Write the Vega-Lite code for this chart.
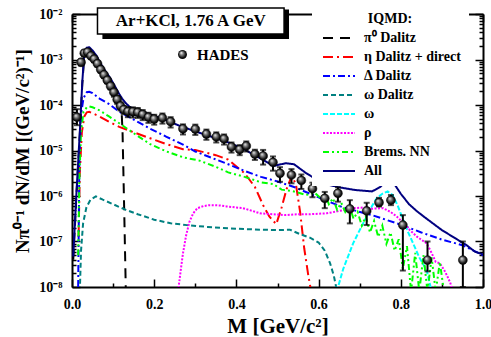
{
  "$schema": "https://vega.github.io/schema/vega-lite/v6.json",
  "width": 411,
  "height": 273,
  "autosize": "none",
  "padding": {"left": 72, "top": 14, "right": 8, "bottom": 50},
  "background": "white",
  "config": {"view": {"stroke": null}, "font": "Liberation Serif"},
  "datasets": {
    "curves": [
      {"s": "π⁰ Dalitz", "M": 0.003, "y": 4.0e-8}, {"s": "π⁰ Dalitz", "M": 0.011, "y": 1.12e-6}, {"s": "π⁰ Dalitz", "M": 0.019, "y": 2.24e-5}, {"s": "π⁰ Dalitz", "M": 0.025, "y": 2.82e-4}, {"s": "π⁰ Dalitz", "M": 0.030, "y": 1.26e-3}, {"s": "π⁰ Dalitz", "M": 0.036, "y": 1.70e-3}, {"s": "π⁰ Dalitz", "M": 0.042, "y": 1.74e-3}, {"s": "π⁰ Dalitz", "M": 0.050, "y": 1.48e-3}, {"s": "π⁰ Dalitz", "M": 0.060, "y": 1.10e-3}, {"s": "π⁰ Dalitz", "M": 0.067, "y": 8.1e-4}, {"s": "π⁰ Dalitz", "M": 0.075, "y": 6.0e-4}, {"s": "π⁰ Dalitz", "M": 0.083, "y": 4.57e-4}, {"s": "π⁰ Dalitz", "M": 0.091, "y": 3.47e-4}, {"s": "π⁰ Dalitz", "M": 0.099, "y": 2.51e-4}, {"s": "π⁰ Dalitz", "M": 0.107, "y": 1.74e-4}, {"s": "π⁰ Dalitz", "M": 0.115, "y": 1.12e-4}, {"s": "π⁰ Dalitz", "M": 0.121, "y": 6.3e-5}, {"s": "π⁰ Dalitz", "M": 0.123, "y": 2.51e-5}, {"s": "π⁰ Dalitz", "M": 0.127, "y": 5.0e-7}, {"s": "π⁰ Dalitz", "M": 0.131, "y": 7.9e-9},

      {"s": "η Dalitz + direct", "M": 0.016, "y": 1.26e-7}, {"s": "η Dalitz + direct", "M": 0.019, "y": 3.16e-6}, {"s": "η Dalitz + direct", "M": 0.024, "y": 2.51e-5}, {"s": "η Dalitz + direct", "M": 0.030, "y": 5.6e-5}, {"s": "η Dalitz + direct", "M": 0.036, "y": 6.9e-5}, {"s": "η Dalitz + direct", "M": 0.042, "y": 7.1e-5}, {"s": "η Dalitz + direct", "M": 0.050, "y": 6.6e-5}, {"s": "η Dalitz + direct", "M": 0.067, "y": 5.6e-5}, {"s": "η Dalitz + direct", "M": 0.090, "y": 4.27e-5}, {"s": "η Dalitz + direct", "M": 0.115, "y": 3.31e-5}, {"s": "η Dalitz + direct", "M": 0.150, "y": 2.51e-5}, {"s": "η Dalitz + direct", "M": 0.190, "y": 1.86e-5}, {"s": "η Dalitz + direct", "M": 0.230, "y": 1.38e-5}, {"s": "η Dalitz + direct", "M": 0.270, "y": 1.07e-5}, {"s": "η Dalitz + direct", "M": 0.300, "y": 1.02e-5}, {"s": "η Dalitz + direct", "M": 0.350, "y": 7.9e-6}, {"s": "η Dalitz + direct", "M": 0.380, "y": 6.3e-6}, {"s": "η Dalitz + direct", "M": 0.420, "y": 3.16e-6}, {"s": "η Dalitz + direct", "M": 0.445, "y": 1.58e-6}, {"s": "η Dalitz + direct", "M": 0.465, "y": 6.3e-7}, {"s": "η Dalitz + direct", "M": 0.480, "y": 3.55e-7}, {"s": "η Dalitz + direct", "M": 0.497, "y": 2.4e-7}, {"s": "η Dalitz + direct", "M": 0.510, "y": 5.6e-7}, {"s": "η Dalitz + direct", "M": 0.522, "y": 1.41e-6}, {"s": "η Dalitz + direct", "M": 0.535, "y": 2.82e-6}, {"s": "η Dalitz + direct", "M": 0.545, "y": 1.78e-6}, {"s": "η Dalitz + direct", "M": 0.555, "y": 4.47e-7}, {"s": "η Dalitz + direct", "M": 0.565, "y": 7.1e-8}, {"s": "η Dalitz + direct", "M": 0.575, "y": 1.78e-8}, {"s": "η Dalitz + direct", "M": 0.582, "y": 7.9e-9},

      {"s": "Δ Dalitz", "M": 0.015, "y": 1.0e-8}, {"s": "Δ Dalitz", "M": 0.018, "y": 6.3e-6}, {"s": "Δ Dalitz", "M": 0.022, "y": 6.3e-5}, {"s": "Δ Dalitz", "M": 0.028, "y": 1.41e-4}, {"s": "Δ Dalitz", "M": 0.036, "y": 1.91e-4}, {"s": "Δ Dalitz", "M": 0.042, "y": 1.95e-4}, {"s": "Δ Dalitz", "M": 0.050, "y": 1.82e-4}, {"s": "Δ Dalitz", "M": 0.067, "y": 1.38e-4}, {"s": "Δ Dalitz", "M": 0.090, "y": 1.05e-4}, {"s": "Δ Dalitz", "M": 0.115, "y": 7.1e-5}, {"s": "Δ Dalitz", "M": 0.150, "y": 4.79e-5}, {"s": "Δ Dalitz", "M": 0.190, "y": 3.02e-5}, {"s": "Δ Dalitz", "M": 0.230, "y": 2.0e-5}, {"s": "Δ Dalitz", "M": 0.270, "y": 1.35e-5}, {"s": "Δ Dalitz", "M": 0.300, "y": 9.5e-6}, {"s": "Δ Dalitz", "M": 0.340, "y": 6.9e-6}, {"s": "Δ Dalitz", "M": 0.380, "y": 5.0e-6}, {"s": "Δ Dalitz", "M": 0.420, "y": 3.55e-6}, {"s": "Δ Dalitz", "M": 0.460, "y": 2.63e-6}, {"s": "Δ Dalitz", "M": 0.500, "y": 2.09e-6}, {"s": "Δ Dalitz", "M": 0.540, "y": 1.58e-6}, {"s": "Δ Dalitz", "M": 0.600, "y": 9.3e-7}, {"s": "Δ Dalitz", "M": 0.660, "y": 5.6e-7}, {"s": "Δ Dalitz", "M": 0.730, "y": 3.8e-7}, {"s": "Δ Dalitz", "M": 0.800, "y": 2.34e-7}, {"s": "Δ Dalitz", "M": 0.850, "y": 1.58e-7}, {"s": "Δ Dalitz", "M": 0.900, "y": 1.10e-7}, {"s": "Δ Dalitz", "M": 0.950, "y": 8.3e-8}, {"s": "Δ Dalitz", "M": 1.000, "y": 5.0e-8},

      {"s": "ω Dalitz", "M": 0.019, "y": 7.9e-9}, {"s": "ω Dalitz", "M": 0.022, "y": 6.3e-8}, {"s": "ω Dalitz", "M": 0.027, "y": 2.51e-7}, {"s": "ω Dalitz", "M": 0.035, "y": 5.6e-7}, {"s": "ω Dalitz", "M": 0.045, "y": 8.3e-7}, {"s": "ω Dalitz", "M": 0.058, "y": 9.8e-7}, {"s": "ω Dalitz", "M": 0.075, "y": 8.3e-7}, {"s": "ω Dalitz", "M": 0.100, "y": 6.6e-7}, {"s": "ω Dalitz", "M": 0.130, "y": 5.0e-7}, {"s": "ω Dalitz", "M": 0.160, "y": 3.98e-7}, {"s": "ω Dalitz", "M": 0.200, "y": 3.02e-7}, {"s": "ω Dalitz", "M": 0.240, "y": 2.51e-7}, {"s": "ω Dalitz", "M": 0.280, "y": 2.29e-7}, {"s": "ω Dalitz", "M": 0.330, "y": 2.09e-7}, {"s": "ω Dalitz", "M": 0.380, "y": 1.95e-7}, {"s": "ω Dalitz", "M": 0.430, "y": 1.86e-7}, {"s": "ω Dalitz", "M": 0.460, "y": 1.82e-7}, {"s": "ω Dalitz", "M": 0.500, "y": 1.78e-7}, {"s": "ω Dalitz", "M": 0.530, "y": 1.82e-7}, {"s": "ω Dalitz", "M": 0.555, "y": 1.45e-7}, {"s": "ω Dalitz", "M": 0.580, "y": 1.20e-7}, {"s": "ω Dalitz", "M": 0.600, "y": 9.5e-8}, {"s": "ω Dalitz", "M": 0.615, "y": 6.3e-8}, {"s": "ω Dalitz", "M": 0.628, "y": 3.31e-8}, {"s": "ω Dalitz", "M": 0.637, "y": 1.78e-8}, {"s": "ω Dalitz", "M": 0.645, "y": 7.9e-9},

      {"s": "ω", "M": 0.644, "y": 7.9e-9}, {"s": "ω", "M": 0.660, "y": 2.51e-8}, {"s": "ω", "M": 0.684, "y": 9.1e-8}, {"s": "ω", "M": 0.700, "y": 1.78e-7}, {"s": "ω", "M": 0.717, "y": 3.55e-7}, {"s": "ω", "M": 0.730, "y": 6.0e-7}, {"s": "ω", "M": 0.741, "y": 8.9e-7}, {"s": "ω", "M": 0.755, "y": 1.12e-6}, {"s": "ω", "M": 0.768, "y": 1.26e-6}, {"s": "ω", "M": 0.780, "y": 1.05e-6}, {"s": "ω", "M": 0.792, "y": 6.3e-7}, {"s": "ω", "M": 0.806, "y": 2.95e-7}, {"s": "ω", "M": 0.818, "y": 1.58e-7}, {"s": "ω", "M": 0.830, "y": 9.1e-8}, {"s": "ω", "M": 0.845, "y": 4.47e-8}, {"s": "ω", "M": 0.863, "y": 2.34e-8}, {"s": "ω", "M": 0.875, "y": 7.9e-9},

      {"s": "ρ", "M": 0.258, "y": 7.9e-9}, {"s": "ρ", "M": 0.265, "y": 2.51e-8}, {"s": "ρ", "M": 0.270, "y": 5.5e-8}, {"s": "ρ", "M": 0.278, "y": 1.41e-7}, {"s": "ρ", "M": 0.286, "y": 2.75e-7}, {"s": "ρ", "M": 0.295, "y": 4.17e-7}, {"s": "ρ", "M": 0.305, "y": 5.4e-7}, {"s": "ρ", "M": 0.320, "y": 6.0e-7}, {"s": "ρ", "M": 0.335, "y": 6.3e-7}, {"s": "ρ", "M": 0.360, "y": 6.2e-7}, {"s": "ρ", "M": 0.376, "y": 5.9e-7}, {"s": "ρ", "M": 0.400, "y": 5.6e-7}, {"s": "ρ", "M": 0.416, "y": 5.4e-7}, {"s": "ρ", "M": 0.440, "y": 4.68e-7}, {"s": "ρ", "M": 0.457, "y": 4.17e-7}, {"s": "ρ", "M": 0.490, "y": 3.98e-7}, {"s": "ρ", "M": 0.520, "y": 3.8e-7}, {"s": "ρ", "M": 0.550, "y": 3.98e-7}, {"s": "ρ", "M": 0.580, "y": 3.98e-7}, {"s": "ρ", "M": 0.620, "y": 4.17e-7}, {"s": "ρ", "M": 0.650, "y": 4.68e-7}, {"s": "ρ", "M": 0.684, "y": 5.4e-7}, {"s": "ρ", "M": 0.710, "y": 5.6e-7}, {"s": "ρ", "M": 0.730, "y": 5.25e-7}, {"s": "ρ", "M": 0.757, "y": 5.4e-7}, {"s": "ρ", "M": 0.775, "y": 4.47e-7}, {"s": "ρ", "M": 0.790, "y": 3.55e-7}, {"s": "ρ", "M": 0.805, "y": 2.63e-7}, {"s": "ρ", "M": 0.822, "y": 1.78e-7}, {"s": "ρ", "M": 0.840, "y": 1.26e-7}, {"s": "ρ", "M": 0.863, "y": 9.1e-8}, {"s": "ρ", "M": 0.875, "y": 5.6e-8}, {"s": "ρ", "M": 0.885, "y": 3.55e-8}, {"s": "ρ", "M": 0.895, "y": 3.31e-8}, {"s": "ρ", "M": 0.905, "y": 2.4e-8}, {"s": "ρ", "M": 0.912, "y": 1.82e-8}, {"s": "ρ", "M": 0.920, "y": 1.26e-8}, {"s": "ρ", "M": 0.927, "y": 7.9e-9},

      {"s": "Brems. NN", "M": 0.015, "y": 5.0e-8}, {"s": "Brems. NN", "M": 0.018, "y": 2.51e-6}, {"s": "Brems. NN", "M": 0.022, "y": 2.51e-5}, {"s": "Brems. NN", "M": 0.028, "y": 7.1e-5}, {"s": "Brems. NN", "M": 0.036, "y": 8.9e-5}, {"s": "Brems. NN", "M": 0.042, "y": 9.3e-5}, {"s": "Brems. NN", "M": 0.050, "y": 8.9e-5}, {"s": "Brems. NN", "M": 0.067, "y": 7.6e-5}, {"s": "Brems. NN", "M": 0.090, "y": 5.6e-5}, {"s": "Brems. NN", "M": 0.115, "y": 3.98e-5}, {"s": "Brems. NN", "M": 0.150, "y": 2.4e-5}, {"s": "Brems. NN", "M": 0.190, "y": 1.38e-5}, {"s": "Brems. NN", "M": 0.230, "y": 9.5e-6}, {"s": "Brems. NN", "M": 0.270, "y": 7.1e-6}, {"s": "Brems. NN", "M": 0.310, "y": 6.0e-6}, {"s": "Brems. NN", "M": 0.350, "y": 4.37e-6}, {"s": "Brems. NN", "M": 0.380, "y": 3.31e-6}, {"s": "Brems. NN", "M": 0.420, "y": 2.63e-6}, {"s": "Brems. NN", "M": 0.460, "y": 2.0e-6}, {"s": "Brems. NN", "M": 0.490, "y": 1.82e-6}, {"s": "Brems. NN", "M": 0.510, "y": 1.38e-6}, {"s": "Brems. NN", "M": 0.540, "y": 1.26e-6}, {"s": "Brems. NN", "M": 0.570, "y": 1.05e-6}, {"s": "Brems. NN", "M": 0.590, "y": 1.20e-6}, {"s": "Brems. NN", "M": 0.605, "y": 8.9e-7}, {"s": "Brems. NN", "M": 0.615, "y": 1.12e-6}, {"s": "Brems. NN", "M": 0.625, "y": 6.6e-7}, {"s": "Brems. NN", "M": 0.635, "y": 8.9e-7}, {"s": "Brems. NN", "M": 0.645, "y": 5.0e-7}, {"s": "Brems. NN", "M": 0.655, "y": 7.1e-7}, {"s": "Brems. NN", "M": 0.665, "y": 4.47e-7}, {"s": "Brems. NN", "M": 0.675, "y": 6.0e-7}, {"s": "Brems. NN", "M": 0.685, "y": 3.16e-7}, {"s": "Brems. NN", "M": 0.695, "y": 4.47e-7}, {"s": "Brems. NN", "M": 0.705, "y": 2.24e-7}, {"s": "Brems. NN", "M": 0.715, "y": 3.55e-7}, {"s": "Brems. NN", "M": 0.725, "y": 1.58e-7}, {"s": "Brems. NN", "M": 0.735, "y": 2.82e-7}, {"s": "Brems. NN", "M": 0.745, "y": 1.26e-7}, {"s": "Brems. NN", "M": 0.755, "y": 2.24e-7}, {"s": "Brems. NN", "M": 0.765, "y": 8.9e-8}, {"s": "Brems. NN", "M": 0.775, "y": 1.58e-7}, {"s": "Brems. NN", "M": 0.785, "y": 6.3e-8}, {"s": "Brems. NN", "M": 0.795, "y": 1.12e-7}, {"s": "Brems. NN", "M": 0.805, "y": 2.51e-8}, {"s": "Brems. NN", "M": 0.815, "y": 7.9e-8}, {"s": "Brems. NN", "M": 0.825, "y": 7.9e-9}, {"s": "Brems. NN", "M": 0.835, "y": 5.6e-8}, {"s": "Brems. NN", "M": 0.845, "y": 7.9e-9}, {"s": "Brems. NN", "M": 0.855, "y": 5.0e-8}, {"s": "Brems. NN", "M": 0.865, "y": 7.9e-9}, {"s": "Brems. NN", "M": 0.875, "y": 4.47e-8}, {"s": "Brems. NN", "M": 0.885, "y": 7.9e-9}, {"s": "Brems. NN", "M": 0.895, "y": 3.55e-8}, {"s": "Brems. NN", "M": 0.905, "y": 7.9e-9},

      {"s": "All", "M": 0.003, "y": 4.68e-8}, {"s": "All", "M": 0.011, "y": 1.26e-6}, {"s": "All", "M": 0.019, "y": 2.51e-5}, {"s": "All", "M": 0.025, "y": 3.16e-4}, {"s": "All", "M": 0.030, "y": 1.41e-3}, {"s": "All", "M": 0.036, "y": 1.82e-3}, {"s": "All", "M": 0.042, "y": 1.86e-3}, {"s": "All", "M": 0.050, "y": 1.58e-3}, {"s": "All", "M": 0.060, "y": 1.20e-3}, {"s": "All", "M": 0.067, "y": 8.9e-4}, {"s": "All", "M": 0.075, "y": 6.8e-4}, {"s": "All", "M": 0.083, "y": 5.25e-4}, {"s": "All", "M": 0.091, "y": 4.17e-4}, {"s": "All", "M": 0.099, "y": 3.16e-4}, {"s": "All", "M": 0.107, "y": 2.34e-4}, {"s": "All", "M": 0.115, "y": 1.74e-4}, {"s": "All", "M": 0.122, "y": 1.38e-4}, {"s": "All", "M": 0.130, "y": 1.12e-4}, {"s": "All", "M": 0.140, "y": 9.1e-5}, {"s": "All", "M": 0.156, "y": 7.8e-5}, {"s": "All", "M": 0.175, "y": 6.8e-5}, {"s": "All", "M": 0.190, "y": 6.2e-5}, {"s": "All", "M": 0.220, "y": 5.0e-5}, {"s": "All", "M": 0.260, "y": 3.55e-5}, {"s": "All", "M": 0.300, "y": 2.63e-5}, {"s": "All", "M": 0.340, "y": 2.0e-5}, {"s": "All", "M": 0.380, "y": 1.51e-5}, {"s": "All", "M": 0.420, "y": 1.05e-5}, {"s": "All", "M": 0.460, "y": 6.6e-6}, {"s": "All", "M": 0.490, "y": 4.57e-6}, {"s": "All", "M": 0.520, "y": 5.25e-6}, {"s": "All", "M": 0.540, "y": 5.0e-6}, {"s": "All", "M": 0.570, "y": 3.16e-6}, {"s": "All", "M": 0.610, "y": 1.91e-6}, {"s": "All", "M": 0.650, "y": 1.55e-6}, {"s": "All", "M": 0.690, "y": 1.35e-6}, {"s": "All", "M": 0.730, "y": 1.26e-6}, {"s": "All", "M": 0.750, "y": 1.58e-6}, {"s": "All", "M": 0.765, "y": 2.19e-6}, {"s": "All", "M": 0.780, "y": 2.09e-6}, {"s": "All", "M": 0.800, "y": 1.12e-6}, {"s": "All", "M": 0.820, "y": 6.6e-7}, {"s": "All", "M": 0.840, "y": 4.57e-7}, {"s": "All", "M": 0.860, "y": 3.31e-7}, {"s": "All", "M": 0.900, "y": 1.78e-7}, {"s": "All", "M": 0.940, "y": 1.07e-7}, {"s": "All", "M": 0.960, "y": 8.3e-8}, {"s": "All", "M": 0.980, "y": 6.0e-8}, {"s": "All", "M": 1.000, "y": 5.2e-8}
    ],
    "hades": [
      {"M": 0.012, "y": 5.4e-5, "lo": 3.6e-5, "hi": 8.1e-5},
      {"M": 0.022, "y": 8.7e-4, "lo": 7.4e-4, "hi": 1.0e-3},
      {"M": 0.030, "y": 1.38e-3, "lo": 1.17e-3, "hi": 1.59e-3},
      {"M": 0.038, "y": 1.45e-3, "lo": 1.23e-3, "hi": 1.67e-3},
      {"M": 0.046, "y": 1.2e-3, "lo": 1.02e-3, "hi": 1.38e-3},
      {"M": 0.054, "y": 1.02e-3, "lo": 8.7e-4, "hi": 1.17e-3},
      {"M": 0.062, "y": 8.1e-4, "lo": 6.9e-4, "hi": 9.3e-4},
      {"M": 0.070, "y": 6.0e-4, "lo": 5.1e-4, "hi": 6.9e-4},
      {"M": 0.078, "y": 4.6e-4, "lo": 3.9e-4, "hi": 5.3e-4},
      {"M": 0.086, "y": 3.5e-4, "lo": 2.98e-4, "hi": 4.0e-4},
      {"M": 0.094, "y": 2.6e-4, "lo": 2.2e-4, "hi": 3.0e-4},
      {"M": 0.102, "y": 1.9e-4, "lo": 1.52e-4, "hi": 2.28e-4},
      {"M": 0.110, "y": 1.32e-4, "lo": 1.06e-4, "hi": 1.58e-4},
      {"M": 0.118, "y": 9.5e-5, "lo": 7.6e-5, "hi": 1.14e-4},
      {"M": 0.126, "y": 7.9e-5, "lo": 6.3e-5, "hi": 9.5e-5},
      {"M": 0.136, "y": 7.2e-5, "lo": 5.4e-5, "hi": 9.0e-5},
      {"M": 0.148, "y": 7.1e-5, "lo": 5.3e-5, "hi": 8.9e-5},
      {"M": 0.160, "y": 6.9e-5, "lo": 5.2e-5, "hi": 8.6e-5},
      {"M": 0.172, "y": 6.2e-5, "lo": 4.65e-5, "hi": 7.75e-5},
      {"M": 0.186, "y": 5.4e-5, "lo": 4.05e-5, "hi": 6.75e-5},
      {"M": 0.200, "y": 4.9e-5, "lo": 3.7e-5, "hi": 6.1e-5},
      {"M": 0.220, "y": 5.2e-5, "lo": 3.9e-5, "hi": 6.5e-5},
      {"M": 0.240, "y": 4.3e-5, "lo": 3.2e-5, "hi": 5.4e-5},
      {"M": 0.270, "y": 3.0e-5, "lo": 2.25e-5, "hi": 3.75e-5},
      {"M": 0.300, "y": 2.95e-5, "lo": 2.2e-5, "hi": 3.7e-5},
      {"M": 0.327, "y": 2.3e-5, "lo": 1.72e-5, "hi": 2.88e-5},
      {"M": 0.351, "y": 2.0e-5, "lo": 1.5e-5, "hi": 2.5e-5},
      {"M": 0.370, "y": 1.8e-5, "lo": 1.35e-5, "hi": 2.25e-5},
      {"M": 0.388, "y": 1.2e-5, "lo": 9.0e-6, "hi": 1.5e-5},
      {"M": 0.408, "y": 1.05e-5, "lo": 7.9e-6, "hi": 1.31e-5},
      {"M": 0.424, "y": 1.26e-5, "lo": 9.5e-6, "hi": 1.58e-5},
      {"M": 0.445, "y": 8.3e-6, "lo": 6.2e-6, "hi": 1.04e-5},
      {"M": 0.465, "y": 7.6e-6, "lo": 4.9e-6, "hi": 1.03e-5},
      {"M": 0.489, "y": 5.5e-6, "lo": 3.6e-6, "hi": 7.4e-6},
      {"M": 0.506, "y": 3.16e-6, "lo": 2.05e-6, "hi": 4.3e-6},
      {"M": 0.534, "y": 2.9e-6, "lo": 1.9e-6, "hi": 3.9e-6},
      {"M": 0.558, "y": 2.2e-6, "lo": 1.43e-6, "hi": 2.97e-6},
      {"M": 0.585, "y": 1.45e-6, "lo": 9.4e-7, "hi": 1.96e-6},
      {"M": 0.615, "y": 8.9e-7, "lo": 5.4e-7, "hi": 1.23e-6},
      {"M": 0.647, "y": 1.15e-6, "lo": 7.5e-7, "hi": 1.55e-6},
      {"M": 0.676, "y": 5.2e-7, "lo": 2.5e-7, "hi": 8.1e-7},
      {"M": 0.717, "y": 4.7e-7, "lo": 2.3e-7, "hi": 7.1e-7},
      {"M": 0.747, "y": 7.2e-7, "lo": 5.9e-7, "hi": 9.1e-7},
      {"M": 0.776, "y": 8.1e-7, "lo": 6.3e-7, "hi": 1.05e-6},
      {"M": 0.805, "y": 2.3e-7, "lo": 2.3e-8, "hi": 3.8e-7},
      {"M": 0.865, "y": 3.9e-8, "lo": 2.2e-8, "hi": 1.0e-7},
      {"M": 0.951, "y": 3.9e-8, "lo": 1.0e-8, "hi": 1.0e-7}
    ]
  },
  "layer": [
    {
      "layer": [
        {
          "data": {"name": "curves"},
          "mark": {"type": "line", "clip": true, "strokeWidth": 2},
          "encoding": {
            "x": {
              "field": "M", "type": "quantitative",
              "scale": {"domain": [0, 1], "nice": false, "zero": false},
              "axis": {
                "orient": "bottom",
                "values": [0, 0.1, 0.2, 0.3, 0.4, 0.5, 0.6, 0.7, 0.8, 0.9, 1.0],
                "labelExpr": "abs(datum.value*5 - round(datum.value*5)) < 0.001 ? format(datum.value, '.1f') : ''",
                "tickSize": {"condition": {"test": "abs(datum.value*5 - round(datum.value*5)) < 0.001", "value": -8}, "value": -4},
                "tickColor": "black", "tickWidth": 1.5,
                "domainColor": "black", "domainWidth": 2,
                "labelFont": "Liberation Serif", "labelFontWeight": "bold", "labelFontSize": 14, "labelColor": "black",
                "labelFlush": false, "labelOverlap": false, "labelPadding": 18,
                "grid": false,
                "title": "M [GeV/c²]", "titleFont": "Liberation Serif", "titleFontWeight": "bold", "titleFontSize": 21, "titleColor": "black", "titlePadding": 0
              }
            },
            "y": {
              "field": "y", "type": "quantitative",
              "scale": {"type": "log", "domain": [1e-8, 1e-2], "nice": false},
              "axis": {
                "orient": "left",
                "values": [1e-8, 2e-8, 3e-8, 4e-8, 5e-8, 6e-8, 7e-8, 8e-8, 9e-8, 1e-7, 2e-7, 3e-7, 4e-7, 5e-7, 6e-7, 7e-7, 8e-7, 9e-7, 1e-6, 2e-6, 3e-6, 4e-6, 5e-6, 6e-6, 7e-6, 8e-6, 9e-6, 1e-5, 2e-5, 3e-5, 4e-5, 5e-5, 6e-5, 7e-5, 8e-5, 9e-5, 1e-4, 2e-4, 3e-4, 4e-4, 5e-4, 6e-4, 7e-4, 8e-4, 9e-4, 1e-3, 2e-3, 3e-3, 4e-3, 5e-3, 6e-3, 7e-3, 8e-3, 9e-3, 1e-2],
                "labelExpr": "abs(log(datum.value)/LN10 - round(log(datum.value)/LN10)) < 0.001 ? '10⁻' + ['⁰','¹','²','³','⁴','⁵','⁶','⁷','⁸','⁹'][-round(log(datum.value)/LN10)] : ''",
                "tickSize": {"condition": {"test": "abs(log(datum.value)/LN10 - round(log(datum.value)/LN10)) < 0.001", "value": -8}, "value": -4},
                "tickColor": "black", "tickWidth": 1.5,
                "domainColor": "black", "domainWidth": 2,
                "labelFont": "Liberation Serif", "labelFontWeight": "bold", "labelFontSize": 14, "labelColor": "black",
                "labelFlush": false, "labelOverlap": false, "labelPadding": 18,
                "grid": false,
                "title": "Nπ⁰⁻¹ dN/dM [(GeV/c²)⁻¹]", "titleFont": "Liberation Serif", "titleFontWeight": "bold", "titleFontSize": 19, "titleColor": "black", "titlePadding": 6
              }
            },
            "color": {
              "field": "s", "type": "nominal",
              "scale": {
                "domain": ["π⁰ Dalitz", "η Dalitz + direct", "Δ Dalitz", "ω Dalitz", "ω", "ρ", "Brems. NN", "All"],
                "range": ["#000000", "#ff0000", "#0000ff", "#008080", "#00ffff", "#ff00ff", "#00ff00", "#000080"]
              },
              "legend": {
                "title": "IQMD:", "orient": "none", "legendX": 240, "legendY": -10,
                "padding": 8, "fillColor": "white", "symbolType": "M-1,0L7,0", "symbolSize": 64, "symbolStrokeWidth": 2,
                "labelFont": "Liberation Serif", "labelFontWeight": "bold", "labelFontSize": 14, "labelColor": "black", "labelOffset": 30,
                "titleFont": "Liberation Serif", "titleFontWeight": "bold", "titleFontSize": 14, "titleColor": "black", "titleAnchor": "middle", "titlePadding": 5,
                "rowPadding": 5, "labelLimit": 300
              }
            },
            "strokeDash": {
              "field": "s", "type": "nominal",
              "scale": {
                "domain": ["π⁰ Dalitz", "η Dalitz + direct", "Δ Dalitz", "ω Dalitz", "ω", "ρ", "Brems. NN", "All"],
                "range": [[10, 7], [10, 4, 2, 4], [7, 3, 2, 3], [5, 3], [5, 2], [2, 1.5], [6, 3, 2, 3, 2, 3], [1, 0]]
              },
              "legend": {
                "title": "IQMD:", "orient": "none", "legendX": 240, "legendY": -10,
                "padding": 8, "fillColor": "white", "symbolType": "M-1,0L7,0", "symbolSize": 64, "symbolStrokeWidth": 2,
                "labelFont": "Liberation Serif", "labelFontWeight": "bold", "labelFontSize": 14, "labelColor": "black", "labelOffset": 30,
                "titleFont": "Liberation Serif", "titleFontWeight": "bold", "titleFontSize": 14, "titleColor": "black", "titleAnchor": "middle", "titlePadding": 5,
                "rowPadding": 5, "labelLimit": 300
              }
            }
          }
        },
        {
          "data": {"name": "hades"},
          "mark": {"type": "rule", "clip": true, "strokeWidth": 2, "color": "black"},
          "encoding": {
            "x": {"field": "M", "type": "quantitative"},
            "y": {"field": "lo", "type": "quantitative"},
            "y2": {"field": "hi"}
          }
        },
        {
          "data": {"name": "hades"},
          "mark": {"type": "tick", "orient": "horizontal", "clip": true, "size": 6, "thickness": 2, "color": "black"},
          "encoding": {
            "x": {"field": "M", "type": "quantitative"},
            "y": {"field": "lo", "type": "quantitative"}
          }
        },
        {
          "data": {"name": "hades"},
          "mark": {"type": "tick", "orient": "horizontal", "clip": true, "size": 6, "thickness": 2, "color": "black"},
          "encoding": {
            "x": {"field": "M", "type": "quantitative"},
            "y": {"field": "hi", "type": "quantitative"}
          }
        },
        {
          "data": {"name": "hades"},
          "mark": {
            "type": "point", "filled": true, "clip": true, "size": 80, "opacity": 1,
            "fill": {"gradient": "radial", "x1": 0.35, "y1": 0.3, "r1": 0, "x2": 0.5, "y2": 0.5, "r2": 0.55,
              "stops": [{"offset": 0, "color": "#ffffff"}, {"offset": 0.3, "color": "#909090"}, {"offset": 0.75, "color": "#101010"}, {"offset": 1, "color": "#000000"}]},
            "stroke": "black", "strokeWidth": 0.5
          },
          "encoding": {
            "x": {"field": "M", "type": "quantitative"},
            "y": {"field": "y", "type": "quantitative"},
            "shape": {
              "datum": "HADES", "type": "nominal",
              "scale": {"domain": ["HADES"], "range": ["circle"]},
              "legend": {
                "title": null, "orient": "none", "legendX": 103, "legendY": 33, "padding": 0,
                "symbolSize": 80, "symbolFillColor": "black", "symbolStrokeColor": "black",
                "labelFont": "Liberation Serif", "labelFontWeight": "bold", "labelFontSize": 15, "labelColor": "black", "labelOffset": 7
              }
            }
          }
        },
        {
          "data": {"values": [{}]},
          "mark": {"type": "rect", "fill": "black"},
          "encoding": {
            "x": {"datum": 0.074}, "x2": {"datum": 0.528},
            "y": {"datum": 0.0125}, "y2": {"datum": 0.00282}
          }
        },
        {
          "data": {"values": [{}]},
          "mark": {"type": "rect", "fill": "white", "stroke": "black", "strokeWidth": 1.5},
          "encoding": {
            "x": {"datum": 0.062}, "x2": {"datum": 0.516},
            "y": {"datum": 0.01355}, "y2": {"datum": 0.00363}
          }
        },
        {
          "data": {"values": [{}]},
          "mark": {"type": "text", "font": "Liberation Serif", "fontWeight": "bold", "fontSize": 17, "color": "black", "align": "center", "baseline": "middle"},
          "encoding": {
            "x": {"datum": 0.289}, "y": {"datum": 0.0070},
            "text": {"value": "Ar+KCl,  1.76 A GeV"}
          }
        }
      ]
    },
    {
      "data": {"name": "hades"},
      "mark": {"type": "point", "opacity": 0},
      "encoding": {
        "x": {
          "field": "M", "type": "quantitative",
          "axis": {
            "orient": "top", "values": [0, 0.1, 0.2, 0.3, 0.4, 0.5, 0.6, 0.7, 0.8, 0.9, 1.0], "labels": false, "title": null, "grid": false,
            "tickSize": {"condition": {"test": "abs(datum.value*5 - round(datum.value*5)) < 0.001", "value": -8}, "value": -4},
            "tickColor": "black", "tickWidth": 1.5, "domainColor": "black", "domainWidth": 2
          }
        },
        "y": {
          "field": "y", "type": "quantitative",
          "axis": {
            "orient": "right",
            "values": [1e-8, 2e-8, 3e-8, 4e-8, 5e-8, 6e-8, 7e-8, 8e-8, 9e-8, 1e-7, 2e-7, 3e-7, 4e-7, 5e-7, 6e-7, 7e-7, 8e-7, 9e-7, 1e-6, 2e-6, 3e-6, 4e-6, 5e-6, 6e-6, 7e-6, 8e-6, 9e-6, 1e-5, 2e-5, 3e-5, 4e-5, 5e-5, 6e-5, 7e-5, 8e-5, 9e-5, 1e-4, 2e-4, 3e-4, 4e-4, 5e-4, 6e-4, 7e-4, 8e-4, 9e-4, 1e-3, 2e-3, 3e-3, 4e-3, 5e-3, 6e-3, 7e-3, 8e-3, 9e-3, 1e-2],
            "labels": false, "title": null, "grid": false,
            "tickSize": {"condition": {"test": "abs(log(datum.value)/LN10 - round(log(datum.value)/LN10)) < 0.001", "value": -8}, "value": -4},
            "tickColor": "black", "tickWidth": 1.5, "domainColor": "black", "domainWidth": 2
          }
        }
      }
    }
  ],
  "resolve": {"axis": {"x": "independent", "y": "independent"}}
}
